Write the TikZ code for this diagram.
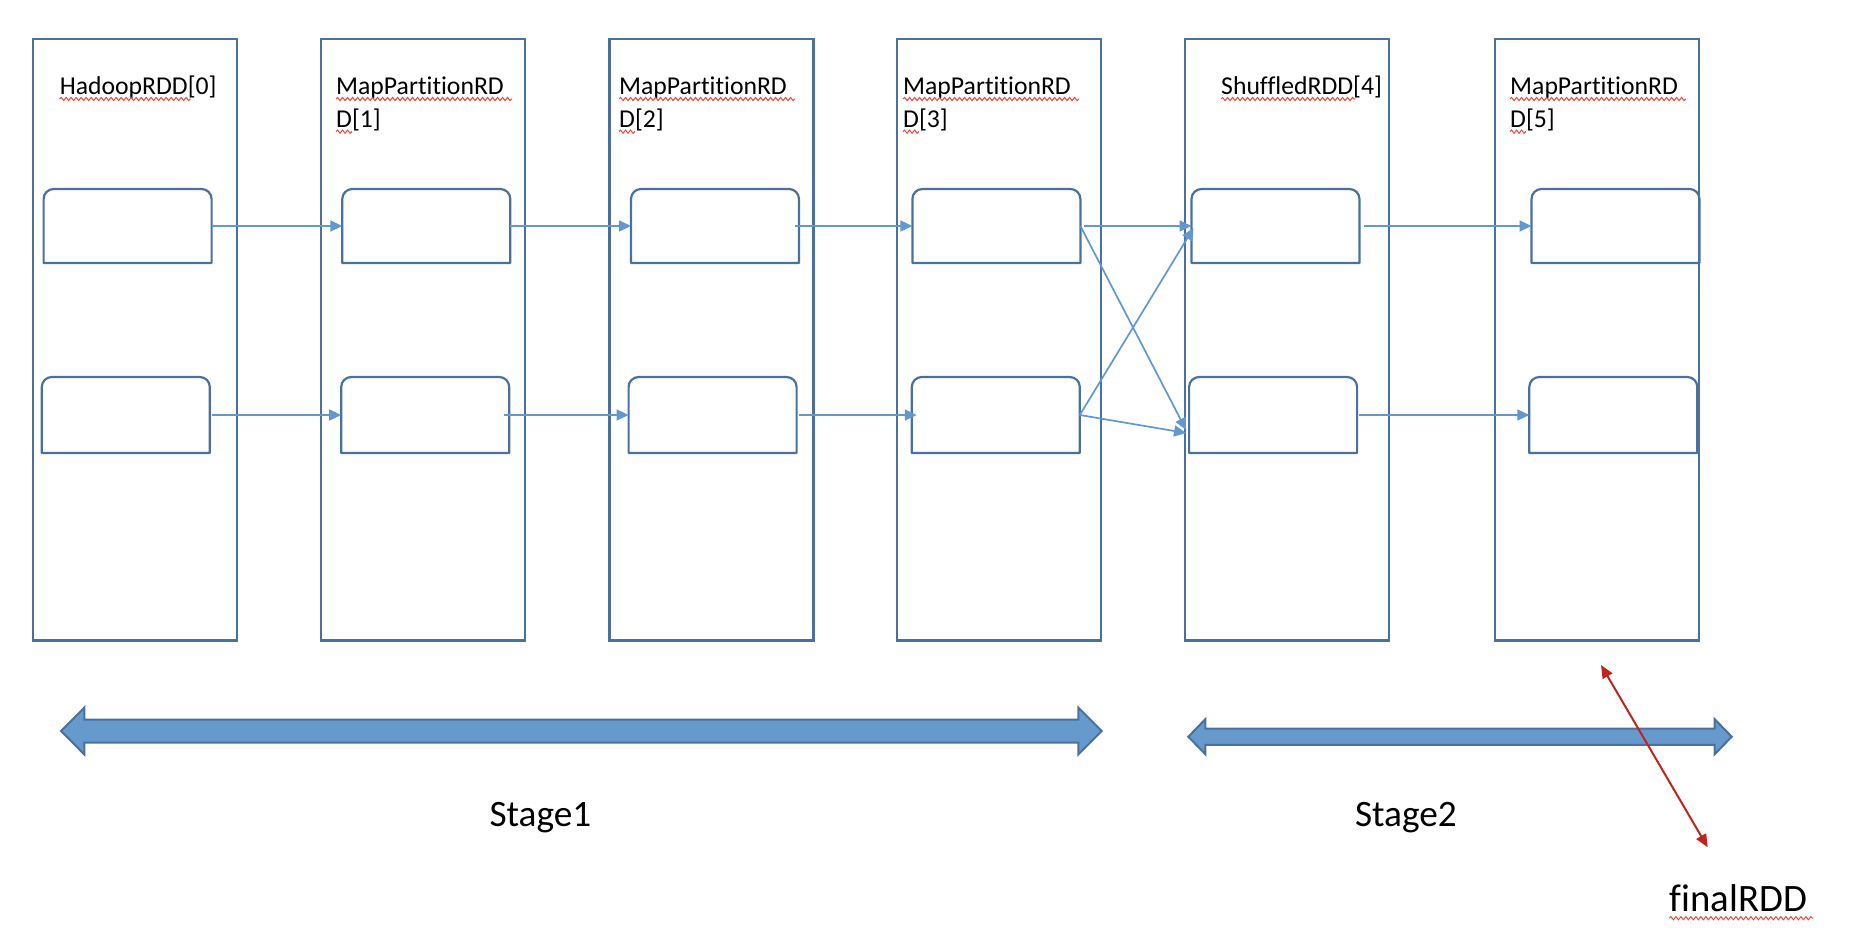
\documentclass[tikz,border=0pt]{standalone}
\usepackage{fontspec}
\setmainfont{Carlito}[Ligatures={NoCommon}]
\usetikzlibrary{arrows.meta,decorations.pathmorphing}
\definecolor{boxc}{RGB}{74,112,158}
\definecolor{conc}{RGB}{98,151,207}
\definecolor{fillc}{RGB}{102,153,204}
\definecolor{redc}{RGB}{192,36,30}
\definecolor{spellc}{RGB}{236,70,60}
\newcommand\toprnd[1]{\draw[boxline] (#1.south west) -- ([yshift=-10pt]#1.north west) arc[start angle=180,end angle=90,radius=10pt] -- ([xshift=-10pt]#1.north east) arc[start angle=90,end angle=0,radius=10pt] -- (#1.south east) -- cycle;}
\newcommand\dblarrow[6]{\draw[big] (#1,#3) -- ({#1+#6},{#3-#5}) -- ({#1+#6},{#3-#4}) -- ({#2-#6},{#3-#4}) -- ({#2-#6},{#3-#5}) -- (#2,#3) -- ({#2-#6},{#3+#5}) -- ({#2-#6},{#3+#4}) -- ({#1+#6},{#3+#4}) -- ({#1+#6},{#3+#5}) -- cycle;}
\begin{document}
\begin{tikzpicture}[x=1pt,y=-1pt,
  col/.style={draw=boxc, line width=2.2pt, minimum width=204pt, minimum height=601pt, inner sep=0pt, outer sep=0pt, anchor=north west},
  part/.style={minimum width=168pt, inner sep=0pt, outer sep=0pt},
  boxline/.style={draw=boxc, line width=2.2pt, line join=round},
  conn/.style={draw=conc, line width=1.7pt, -{Triangle[length=12pt,width=11pt]}},
  lab/.style={anchor=base west, align=left, inner sep=0pt, font=\fontsize{25.7}{32.7}\selectfont},
  stage/.style={anchor=base west, inner sep=0pt, font=\fontsize{37.3}{44}\selectfont},
  finlab/.style={anchor=base west, inner sep=0pt, font=\fontsize{38.8}{46}\selectfont},
  wave/.style={draw=spellc, line width=1pt, decorate, decoration={snake, segment length=5pt, amplitude=1.6pt}},
  big/.style={fill=fillc, draw=boxc, line width=2pt, line join=miter},
  redarr/.style={draw=redc, line width=2pt, {Triangle[length=13pt,width=11pt]}-{Triangle[length=13pt,width=11pt]}}
]
\useasboundingbox (0,0) rectangle (1870,942);
% columns
\node[col] (c1) at (33.2,39.4) {};
\node[col] (c2) at (321,39.4) {};
\node[col] (c3) at (609.4,39.4) {};
\node[col] (c4) at (896.8,39.4) {};
\node[col] (c5) at (1185.2,39.4) {};
\node[col] (c6) at (1495,39.4) {};
% partitions
\node[part, minimum height=74pt] (b1a) at (127.6,226) {};
\node[part, minimum height=76pt] (b1b) at (125.8,415) {};
\node[part, minimum height=74pt] (b2a) at (426.3,226) {};
\node[part, minimum height=76pt] (b2b) at (425.2,415) {};
\node[part, minimum height=74pt] (b3a) at (715,226) {};
\node[part, minimum height=76pt] (b3b) at (712.6,415) {};
\node[part, minimum height=74pt] (b4a) at (996.4,226) {};
\node[part, minimum height=76pt] (b4b) at (995.8,415) {};
\node[part, minimum height=74pt] (b5a) at (1275.5,226) {};
\node[part, minimum height=76pt] (b5b) at (1273.1,415) {};
\node[part, minimum height=74pt] (b6a) at (1615.5,226) {};
\node[part, minimum height=76pt] (b6b) at (1613.3,415) {};
\toprnd{b1a}\toprnd{b1b}\toprnd{b2a}\toprnd{b2b}\toprnd{b3a}\toprnd{b3b}
\toprnd{b4a}\toprnd{b4b}\toprnd{b5a}\toprnd{b5b}\toprnd{b6a}\toprnd{b6b}
% labels (multi-line nodes: base = last line)
\node[lab] (t1) at (59.6,94.5) {HadoopRDD[0]};
\node[lab] (t2) at (336,127.2) {MapPartitionRD\\D[1]};
\node[lab] (t3) at (619,127.2) {MapPartitionRD\\D[2]};
\node[lab] (t4) at (903,127.2) {MapPartitionRD\\D[3]};
\node[lab] (t5) at (1221,94.5) {ShuffledRDD[4]};
\node[lab] (t6) at (1510,127.2) {MapPartitionRD\\D[5]};
\draw[wave] ([yshift=-4.5pt]t1.base west) -- ++(131,0);
\draw[wave] ([yshift=-4.5pt]t5.base west) -- ++(134,0);
\foreach \t in {t2,t3,t4,t6}{
  \draw[wave] ([yshift=28.2pt]\t.base west) -- ++(176,0);
  \draw[wave] ([yshift=-4.5pt]\t.base west) -- ++(16,0);
}
% connectors
\draw[conn] (b1a.east) -- (b2a.west);
\draw[conn] (b2a.east) -- (b3a.west);
\draw[conn] ([xshift=-4pt]b3a.east) -- (b4a.west);
\draw[conn] ([xshift=4pt]b4a.east) -- (b5a.west);
\draw[conn] ([xshift=4pt]b5a.east) -- (b6a.west);
\draw[conn] ([xshift=2pt]b1b.east) -- (b2b.west);
\draw[conn] ([xshift=-5pt]b2b.east) -- (b3b.west);
\draw[conn] ([xshift=2pt]b3b.east) -- ([xshift=5pt]b4b.west);
\draw[conn] ([xshift=2pt]b5b.east) -- (b6b.west);
\draw[conn] (b4a.east) -- ([xshift=-3pt,yshift=-15pt]b5b.west);
\draw[conn] (b4b.east) -- ([xshift=2pt,yshift=-2pt]b5a.west);
\draw[conn] (b4b.east) -- ([xshift=-3pt,yshift=-18pt]b5b.west);
% stage arrows
\dblarrow{61}{1101.7}{731}{11.5}{23.5}{23.4}
\dblarrow{1188.3}{1731.7}{736.7}{8.2}{17.5}{17}
\node[stage] (s1) at (489.3,826.7) {Stage1};
\node[stage] (s2) at (1354.8,826.7) {Stage2};
\node[finlab] (fin) at (1669.3,911.7) {finalRDD};
\draw[wave] ([yshift=-6.5pt]fin.base west) -- ++(144,0);
\coordinate (r1) at (1601,665);
\coordinate (r2) at (1707.7,847.3);
\draw[redarr] (r1) -- (r2);
\end{tikzpicture}
\end{document}
